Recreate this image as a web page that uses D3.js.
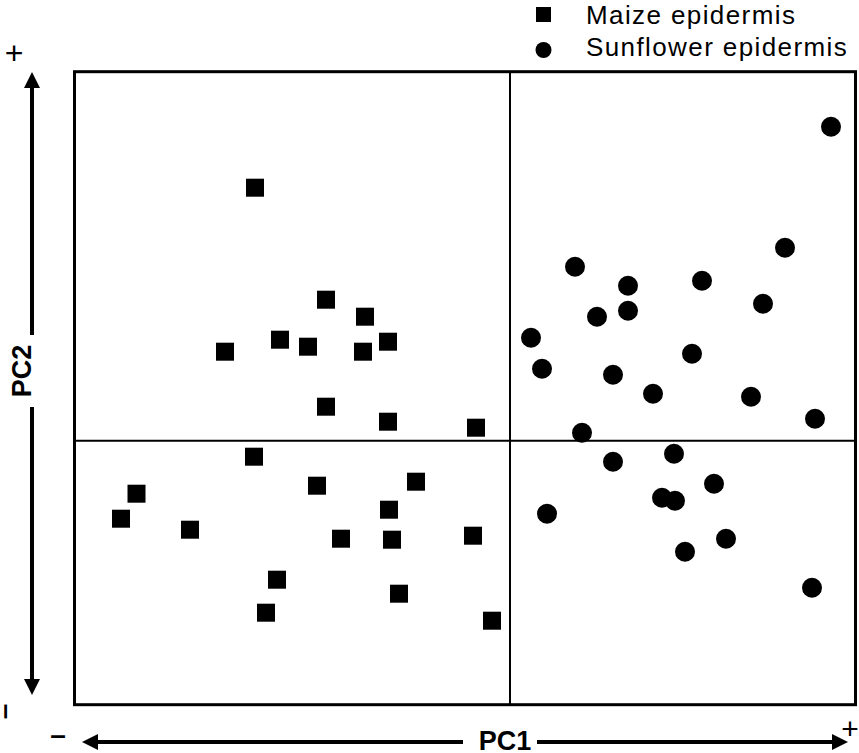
<!DOCTYPE html>
<html>
<head>
<meta charset="utf-8">
<script src="https://cdn.jsdelivr.net/npm/d3@7"></script>
<style>
  html, body { margin: 0; padding: 0; background: #fff; }
  svg { display: block; }
  text { font-family: "Liberation Sans", Arial, sans-serif; fill: #000; }
</style>
</head>
<body>
<svg id="chart" width="859" height="753"></svg>
<script>
// PCA scores (PC1, PC2) for the two epidermis types
const maizePC1 = [-2.55, -1.84, -1.45, -2.85, -2.30, -2.02, -1.47, -1.22, -1.84, -1.22, -0.34,
                  -2.56, -3.735, -3.89, -3.20, -1.93, -0.94, -1.21, -1.69, -1.18, -0.37,
                  -2.33, -2.44, -1.11, -0.18];
const maizePC2 = [2.53, 1.41, 1.24, 0.89, 1.01, 0.94, 0.89, 0.99, 0.34, 0.19, 0.13,
                  -0.16, -0.53, -0.78, -0.89, -0.45, -0.41, -0.69, -0.98, -0.99, -0.95,
                  -1.39, -1.72, -1.53, -1.80];
const sunflowerPC1 = [3.21, 2.75, 0.65, 1.18, 1.92, 0.87, 1.18, 0.21, 2.53, 1.82, 0.32, 1.03,
                      1.43, 2.41, 3.05, 0.72, 1.64, 1.03, 2.04, 1.52, 1.65, 0.37, 2.16, 1.75, 3.02];
const sunflowerPC2 = [3.14, 1.93, 1.74, 1.55, 1.60, 1.24, 1.30, 1.03, 1.37, 0.87, 0.72, 0.66,
                      0.47, 0.44, 0.22, 0.08, -0.13, -0.21, -0.43, -0.57, -0.60, -0.73, -0.98, -1.11, -1.47];

const seriesNames = ["Maize epidermis", "Sunflower epidermis"];
const axisTitles = ["PC1", "PC2"];
const pc1Domain = [-4.355, 3.455];
const pc2Domain = [-2.64, 3.69];

const svg = d3.select("#chart");

const plot = { left: 74.5, right: 855.5, top: 71.7, bottom: 704.7 };
const x = d3.scaleLinear().domain(pc1Domain).range([plot.left, plot.right]);
const y = d3.scaleLinear().domain(pc2Domain).range([plot.bottom, plot.top]);

// plot frame
svg.append("rect")
  .attr("x", plot.left).attr("y", plot.top)
  .attr("width", plot.right - plot.left).attr("height", plot.bottom - plot.top)
  .attr("fill", "none").attr("stroke", "#000").attr("stroke-width", 3);

// zero lines dividing the quadrants
svg.append("line")
  .attr("x1", x(0)).attr("x2", x(0)).attr("y1", plot.top).attr("y2", plot.bottom)
  .attr("stroke", "#000").attr("stroke-width", 2);
svg.append("line")
  .attr("x1", plot.left).attr("x2", plot.right).attr("y1", y(0)).attr("y2", y(0))
  .attr("stroke", "#000").attr("stroke-width", 2);

// data points
const maize = maizePC1.map((v, i) => ({ pc1: v, pc2: maizePC2[i] }));
const sunflower = sunflowerPC1.map((v, i) => ({ pc1: v, pc2: sunflowerPC2[i] }));

const sq = 18;
svg.append("g").selectAll("rect").data(maize).join("rect")
  .attr("x", d => x(d.pc1) - sq / 2)
  .attr("y", d => y(d.pc2) - sq / 2)
  .attr("width", sq).attr("height", sq)
  .attr("fill", "#000");

svg.append("g").selectAll("circle").data(sunflower).join("circle")
  .attr("cx", d => x(d.pc1))
  .attr("cy", d => y(d.pc2))
  .attr("r", 10)
  .attr("fill", "#000");

// legend
const legend = svg.append("g");
legend.append("rect").attr("x", 536).attr("y", 7).attr("width", 15).attr("height", 15).attr("fill", "#000");
legend.append("circle").attr("cx", 543.5).attr("cy", 50).attr("r", 8).attr("fill", "#000");
legend.selectAll("text").data(seriesNames).join("text")
  .attr("x", 586)
  .attr("y", (d, i) => 23.5 + i * 32)
  .attr("font-size", 26)
  .attr("letter-spacing", 1.4)
  .text(d => d);

// arrowed axis guides
const arrowW = 4, headLen = 16, headHalf = 8;

// vertical PC2 guide
const vx = 32, vTop = 72, vBot = 695, gapTop = 335, gapBot = 407;
svg.append("line").attr("x1", vx).attr("x2", vx).attr("y1", vTop + headLen - 1).attr("y2", gapTop)
  .attr("stroke", "#000").attr("stroke-width", arrowW);
svg.append("line").attr("x1", vx).attr("x2", vx).attr("y1", gapBot).attr("y2", vBot - headLen + 1)
  .attr("stroke", "#000").attr("stroke-width", arrowW);
svg.append("path").attr("d", d3.line()([[vx, vTop], [vx - headHalf, vTop + headLen], [vx + headHalf, vTop + headLen]]) + "Z");
svg.append("path").attr("d", d3.line()([[vx, vBot], [vx - headHalf, vBot - headLen], [vx + headHalf, vBot - headLen]]) + "Z");
svg.append("text")
  .attr("transform", `translate(31,${(gapTop + gapBot) / 2}) rotate(-90)`)
  .attr("text-anchor", "middle")
  .attr("font-size", 27).attr("font-weight", "bold")
  .text(axisTitles[1]);

// horizontal PC1 guide
const hy = 742, hLeft = 82, hRight = 848, gapL = 463, gapR = 537;
svg.append("line").attr("x1", hLeft + headLen - 1).attr("x2", gapL).attr("y1", hy).attr("y2", hy)
  .attr("stroke", "#000").attr("stroke-width", arrowW);
svg.append("line").attr("x1", gapR).attr("x2", hRight - headLen + 1).attr("y1", hy).attr("y2", hy)
  .attr("stroke", "#000").attr("stroke-width", arrowW);
svg.append("path").attr("d", d3.line()([[hLeft, hy], [hLeft + headLen, hy - headHalf], [hLeft + headLen, hy + headHalf]]) + "Z");
svg.append("path").attr("d", d3.line()([[hRight, hy], [hRight - headLen, hy - headHalf], [hRight - headLen, hy + headHalf]]) + "Z");
svg.append("text")
  .attr("x", 505).attr("y", 750)
  .attr("text-anchor", "middle")
  .attr("font-size", 27).attr("font-weight", "bold")
  .text(axisTitles[0]);

// direction signs
svg.append("text").attr("x", 14).attr("y", 64).attr("text-anchor", "middle").attr("font-size", 32).text("+");
svg.append("text").attr("x", 850).attr("y", 739).attr("text-anchor", "middle").attr("font-size", 30).text("+");
svg.append("text")
  .attr("transform", "translate(13,711.5) rotate(-90)")
  .attr("text-anchor", "middle").attr("font-size", 28).attr("font-weight", "bold")
  .text("–");
svg.append("text")
  .attr("x", 58).attr("y", 744)
  .attr("text-anchor", "middle").attr("font-size", 28).attr("font-weight", "bold")
  .text("–");
</script>
</body>
</html>
